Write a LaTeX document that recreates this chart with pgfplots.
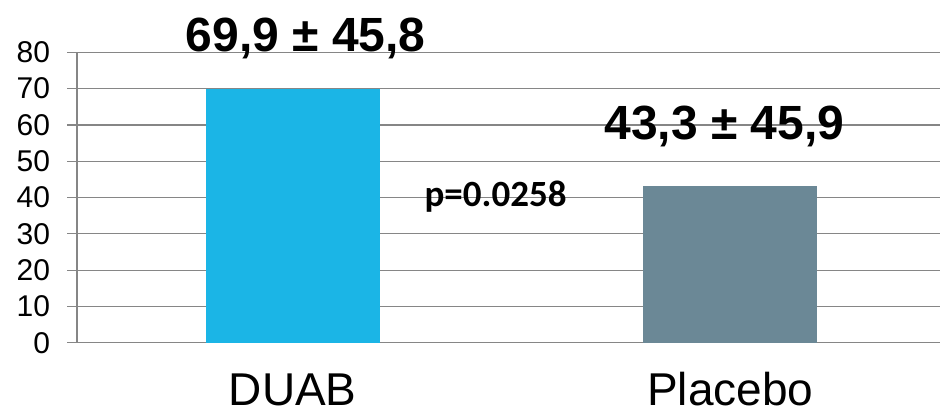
\documentclass[border=0pt]{standalone}
\usepackage{pgfplots}
\pgfplotsset{compat=1.18}
\usepackage{fontspec}
\setmainfont{Liberation Sans}
\newfontfamily\carlito{Carlito}
\definecolor{duab}{RGB}{27,181,230}
\definecolor{plac}{RGB}{107,136,150}
\definecolor{gridc}{RGB}{134,134,134}
\begin{document}
\begin{tikzpicture}
\path[use as bounding box] (-77bp,-74.3bp) rectangle (863bp,342.7bp);
\begin{axis}[
  at={(0,0)}, anchor=south west,
  scale only axis, width=863bp, height=290.4bp,
  xmin=-0.5, xmax=1.5, ymin=0, ymax=80,
  enlargelimits=false,
  ytick={0,10,...,80},
  xtick={0,1.014}, xticklabels={DUAB,Placebo},
  axis lines*=left,
  ymajorgrids, grid style={gridc, line width=1.2bp},
  axis line style={gridc, line width=1.2bp},
  x tick style={draw=none},
  y tick style={gridc, line width=1.2bp},
  tick align=outside, major tick length=10bp,
  /pgf/number format/assume math mode=true,
  yticklabel style={font=\fontsize{30bp}{36bp}\selectfont, anchor=east, inner sep=0pt, xshift=-16.7bp},
  xticklabel style={font=\fontsize{46bp}{55bp}\selectfont, anchor=base, inner sep=0pt, yshift=-52.3bp},
  ybar, bar width=174bp,
  clip=false,
]
\addplot[fill=duab, draw=none, bar shift=0pt] coordinates {(0,69.9)};
\addplot[fill=plac, draw=none, bar shift=0pt] coordinates {(1.014,43.3)};
\node[anchor=base, font=\bfseries\fontsize{48bp}{56bp}\selectfont] at (axis cs:0.03,80.1) {69,9 ± 45,8};
\node[anchor=base, font=\bfseries\fontsize{48bp}{56bp}\selectfont] at (axis cs:1.0,56.1) {43,3 ± 45,9};
\node[anchor=base, font=\carlito\bfseries\fontsize{37bp}{42bp}\selectfont] at (axis cs:0.47,37.4) {p=0.0258};
\end{axis}
\end{tikzpicture}
\end{document}
